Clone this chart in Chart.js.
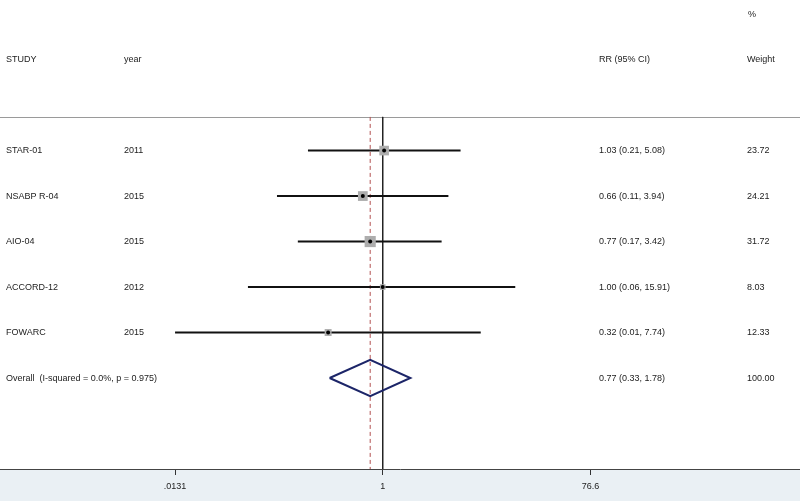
<!DOCTYPE html>
<html>
<head>
<meta charset="utf-8">
<script src="https://cdn.jsdelivr.net/npm/chart.js@4"></script>
<style>
  html, body { margin: 0; padding: 0; background: #fff; }
  #wrap { width: 800px; height: 501px; position: relative; }
</style>
</head>
<body>
<div id="wrap"><canvas id="forest"></canvas></div>
<script>
// study rows
const studies = ['STAR-01', 'NSABP R-04', 'AIO-04', 'ACCORD-12', 'FOWARC'];
const years = ['2011', '2015', '2015', '2012', '2015'];
const rr = [1.03, 0.66, 0.77, 1.00, 0.32];
const ciLow = [0.21, 0.11, 0.17, 0.06, 0.0131];
const ciHigh = [5.08, 3.94, 3.42, 15.91, 7.74];
const weights = [23.72, 24.21, 31.72, 8.03, 12.33];

// pooled estimate
const overallLabel = 'Overall  (I-squared = 0.0%, p = 0.975)';
const overallRR = 0.77;
const overallLow = 0.33;
const overallHigh = 1.78;
const overallWeight = 100.00;

// x axis ticks
const tickValues = [0.0131, 1, 76.6];
const tickLabels = ['.0131', '1', '76.6'];

// axis ranges (row 1 = first study, separator just above it)
const xMin = 0.000339, xMax = 6070;
const yMin = -2.31, yMax = 8.0;
const sepRow = 0.26;
const overallRow = studies.length + 1;
const diamondHalf = 0.4;

const rows = studies.map((s, i) => i + 1);
const fontStr = '9px "Liberation Sans", Arial, sans-serif';
const textColor = '#222';

// one line dataset per confidence interval
const ciSets = studies.map((s, i) => ({
  type: 'line',
  data: [{ x: ciLow[i], y: rows[i] }, { x: ciHigh[i], y: rows[i] }],
  borderColor: '#111',
  borderWidth: 2,
  pointRadius: 0,
  order: 3
}));

const datasets = [
  // reference line at 1
  {
    type: 'line',
    data: [{ x: 1, y: sepRow }, { x: 1, y: yMax }],
    borderColor: '#222',
    borderWidth: 1,
    pointRadius: 0,
    order: 5
  },
  // dashed line at pooled estimate
  {
    type: 'line',
    data: [{ x: overallRR, y: sepRow }, { x: overallRR, y: yMax }],
    borderColor: '#b25050',
    borderWidth: 1,
    borderDash: [4, 3],
    pointRadius: 0,
    order: 4
  },
  ...ciSets,
  // weight boxes
  {
    type: 'scatter',
    data: rr.map((v, i) => ({ x: v, y: rows[i] })),
    pointStyle: 'rect',
    pointRadius: weights.map(w => Math.sqrt(w) * 1.4),
    backgroundColor: '#adadad',
    borderWidth: 0,
    order: 2
  },
  // point estimates
  {
    type: 'scatter',
    data: rr.map((v, i) => ({ x: v, y: rows[i] })),
    pointRadius: 2,
    backgroundColor: '#000',
    borderWidth: 0,
    order: 1
  },
  // pooled diamond
  {
    type: 'line',
    data: [
      { x: overallLow, y: overallRow },
      { x: overallRR, y: overallRow - diamondHalf },
      { x: overallHigh, y: overallRow },
      { x: overallRR, y: overallRow + diamondHalf },
      { x: overallLow, y: overallRow }
    ],
    borderColor: '#1c2568',
    borderWidth: 2,
    pointRadius: 0,
    borderJoinStyle: 'miter',
    order: 1
  }
];

const decorPlugin = {
  id: 'decor',
  beforeDraw(chart) {
    const { ctx, chartArea, width, height } = chart;
    ctx.save();
    ctx.fillStyle = '#ffffff';
    ctx.fillRect(0, 0, width, height);
    ctx.fillStyle = '#eaf0f4';
    ctx.fillRect(0, chartArea.bottom, width, height - chartArea.bottom);
    // separator under header
    const ySep = Math.round(chart.scales.y.getPixelForValue(sepRow)) + 0.5;
    ctx.strokeStyle = '#9a9a9a';
    ctx.lineWidth = 1;
    ctx.beginPath();
    ctx.moveTo(0, ySep);
    ctx.lineTo(width, ySep);
    ctx.stroke();
    ctx.restore();
  },
  afterDraw(chart) {
    const { ctx } = chart;
    const ys = chart.scales.y;
    ctx.save();
    ctx.font = fontStr;
    ctx.fillStyle = textColor;
    ctx.textBaseline = 'middle';
    ctx.textAlign = 'left';
    // header
    ctx.fillText('%', 748, 15);
    ctx.fillText('STUDY', 6, 60);
    ctx.fillText('year', 124, 60);
    ctx.fillText('RR (95% CI)', 599, 60);
    ctx.fillText('Weight', 747, 60);
    studies.forEach((s, i) => {
      const y = ys.getPixelForValue(rows[i]);
      ctx.fillText(s, 6, y);
      ctx.fillText(years[i], 124, y);
      ctx.fillText(rr[i].toFixed(2) + ' (' + ciLow[i].toFixed(2) + ', ' + ciHigh[i].toFixed(2) + ')', 599, y);
      ctx.fillText(weights[i].toFixed(2), 747, y);
    });
    const yo = ys.getPixelForValue(overallRow);
    ctx.fillText(overallLabel, 6, yo);
    ctx.fillText(overallRR.toFixed(2) + ' (' + overallLow.toFixed(2) + ', ' + overallHigh.toFixed(2) + ')', 599, yo);
    ctx.fillText(overallWeight.toFixed(2), 747, yo);
    ctx.restore();
  }
};

new Chart(document.getElementById('forest'), {
  type: 'scatter',
  data: { datasets: datasets },
  plugins: [decorPlugin],
  options: {
    responsive: true,
    maintainAspectRatio: false,
    animation: false,
    layout: { padding: 0, autoPadding: false },
    plugins: {
      legend: { display: false },
      tooltip: { enabled: false }
    },
    scales: {
      x: {
        type: 'logarithmic',
        bounds: 'data',
        min: xMin,
        max: xMax,
        afterBuildTicks: scale => {
          scale.ticks = tickValues.map(v => ({ value: v }));
        },
        afterFit: scale => {
          scale.height = 32;
          scale.paddingLeft = 0;
          scale.paddingRight = 0;
        },
        ticks: {
          autoSkip: false,
          maxRotation: 0,
          padding: 6,
          color: textColor,
          font: { family: '"Liberation Sans", Arial, sans-serif', size: 9 },
          callback: (val, idx) => tickLabels[idx]
        },
        grid: {
          drawOnChartArea: false,
          drawTicks: true,
          tickLength: 6,
          color: '#333'
        },
        border: { display: true, color: '#444', width: 1 }
      },
      y: {
        type: 'linear',
        display: false,
        reverse: true,
        min: yMin,
        max: yMax
      }
    }
  }
});
</script>
</body>
</html>
